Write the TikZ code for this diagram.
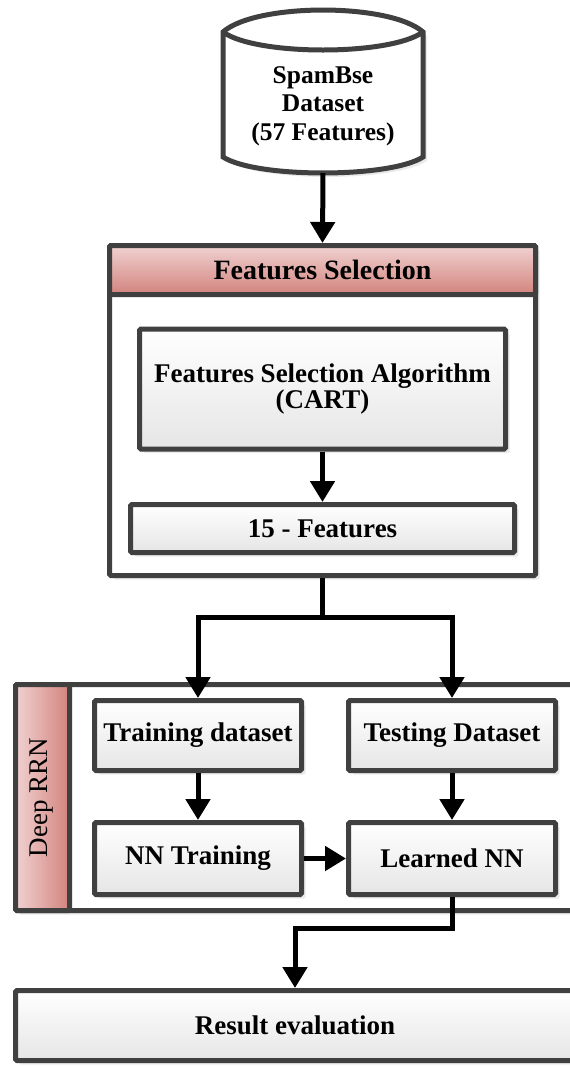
\documentclass[tikz,border=0pt]{standalone}
\usepackage{fontspec}
\setmainfont{Liberation Serif}
\usetikzlibrary{arrows.meta,shadows}
\definecolor{bord}{HTML}{404040}
\definecolor{pinkA}{HTML}{F0D2D1}
\definecolor{pinkB}{HTML}{D3837D}
\begin{document}
\begin{tikzpicture}[x=1pt,y=-1pt,
  shad/.style={drop shadow={shadow xshift=4pt, shadow yshift=-4pt, fill=black!16}},
  box/.style={draw=bord, line width=5pt, rounded corners=1.5pt, top color=white, bottom color=black!10, shad,
    font=\fontsize{27}{25}\selectfont\bfseries, align=center, inner sep=0pt},
  plain/.style={draw=bord, line width=5pt, rounded corners=1.5pt, fill=white, shad, inner sep=0pt},
  head/.style={draw=bord, line width=5pt, rounded corners=1.5pt, top color=pinkA, bottom color=pinkB,
    font=\fontsize{28}{30}\selectfont\bfseries, inner sep=0pt},
  side/.style={draw=bord, line width=5pt, rounded corners=1.5pt, left color=pinkA, right color=pinkB, inner sep=0pt},
  arr/.style={line width=5pt, -{Triangle[width=24pt,length=21pt]}},
  ln/.style={line width=5pt}]
\useasboundingbox (0,0) rectangle (570,1066);
\clip (0,0) rectangle (570,1066);

% database cylinder
\path[draw=bord, line width=5pt, fill=white, shad]
  (223,32) .. controls (256,2.7) and (390,2.7) .. (423,32) -- (423,157)
  .. controls (390,178.3) and (256,178.3) .. (223,157) -- cycle;
\draw[bord, line width=5pt] (223,32) .. controls (256,56) and (390,56) .. (423,32);
\node[font=\fontsize{25.5}{28.5}\selectfont\bfseries, align=center] (db) at (323,106)
  {SpamBse\\Dataset\\(57 Features)};
\coordinate (dbb) at (323,173);

% features selection container
\node[plain, minimum width=426pt, minimum height=330pt] (fs) at (322.5,410.5) {};
\node[head, minimum width=426pt, minimum height=49pt] (fsh) at (322.5,270) {Features Selection};
\node[box, minimum width=366pt, minimum height=120pt] (alg) at (322.5,389)
  {Features Selection Algorithm\\(CART)};
\node[box, minimum width=384pt, minimum height=48pt] (f15) at (322.5,528.5) {15 - Features};

% deep RRN container
\node[plain, minimum width=559pt, minimum height=226pt] (rnn) at (295,797.5) {};
\node[side, minimum width=54pt, minimum height=226pt] (rnnside) at (42.5,797.5) {};
\node[rotate=90, font=\fontsize{27}{30}\selectfont] (rnnlab) at (42,797.5) {Deep RRN};
\node[box, minimum width=207pt, minimum height=70pt] (train) at (198,735.5) {Training dataset};
\node[box, minimum width=207pt, minimum height=70pt] (test) at (452,735.5) {Testing Dataset};
\node[box, minimum width=207pt, minimum height=72pt] (nntr) at (198,858.5) {NN Training};
\node[box, minimum width=207pt, minimum height=72pt] (learn) at (452,858.5) {Learned NN};

% result
\node[box, minimum width=559pt, minimum height=70pt] (res) at (295,1025.5) {Result evaluation};

% connectors
\draw[arr] (dbb) -- (fs.north);
\draw[arr] (alg.south) -- (f15.north);
\coordinate (split) at (322.5,617);
\draw[ln] (fs.south) -- (split);
\draw[arr] (split) -| (train.north);
\draw[arr] (split) -| (test.north);
\draw[arr] (train.south) -- (nntr.north);
\draw[arr] (test.south) -- (learn.north);
\draw[arr] (nntr.east) -- (learn.west);
\coordinate (bend) at (452,928);
\draw[arr] (learn.south) -- (bend) -| (res.north);
\end{tikzpicture}
\end{document}
